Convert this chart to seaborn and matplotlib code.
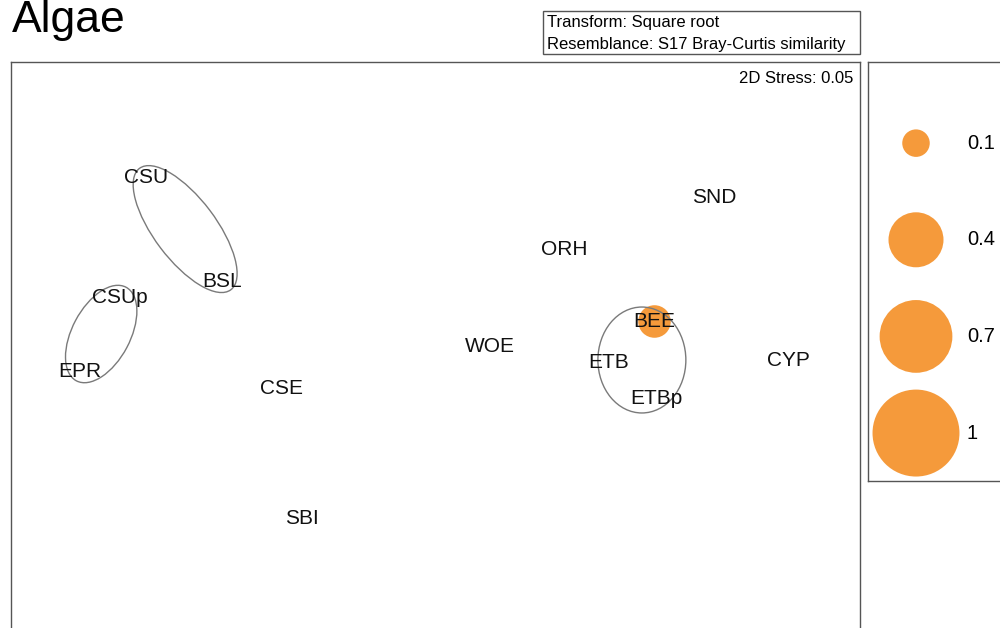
import matplotlib.pyplot as plt
import numpy as np
import pandas as pd
import seaborn as sns
from matplotlib.patches import Ellipse, Rectangle

# nMDS ordination (arbitrary units)
sites = ["CSU", "BSL", "CSUp", "EPR", "CSE", "SBI", "WOE",
         "ORH", "SND", "BEE", "ETB", "ETBp", "CYP"]
mds1 = [-1.445, -1.065, -1.575, -1.775, -0.77, -0.665, 0.275,
        0.645, 1.395, 1.095, 0.87, 1.11, 1.77]
mds2 = [0.865, 0.345, 0.265, -0.11, -0.195, -0.845, 0.02,
        0.505, 0.765, 0.145, -0.06, -0.245, -0.05]
# bubble overlay value (only BEE non-zero)
bubble = [0, 0, 0, 0, 0, 0, 0, 0, 0, 0.14, 0, 0, 0]

# cluster outlines: centre x, centre y, width, height, angle
clu_x = [-1.25, -1.67, 1.035]
clu_y = [0.605, 0.08, -0.05]
clu_w = [0.76, 0.53, 0.44]
clu_h = [0.31, 0.29, 0.53]
clu_a = [-53, 62, 0]

legend_vals = [0.1, 0.4, 0.7, 1]
legend_labels = ["0.1", "0.4", "0.7", "1"]

SIZE_SCALE = 3920  # points^2 for value 1
ORANGE = "#F59A3B"

df = pd.DataFrame({"site": sites, "x": mds1, "y": mds2, "v": bubble})

sns.set_theme(style="white")
plt.rcParams["font.family"] = ["Liberation Sans", "DejaVu Sans"]
plt.rcParams["text.color"] = "black"

fig = plt.figure(figsize=(10, 6.28), dpi=100)
ax = fig.add_axes([0.011, -0.03, 0.849, 0.931])

b = df[df["v"] > 0]
sns.scatterplot(data=b, x="x", y="y", s=b["v"] * SIZE_SCALE, color=ORANGE,
                linewidth=0, legend=False, ax=ax, zorder=2)

for cx, cy, w, h, a in zip(clu_x, clu_y, clu_w, clu_h, clu_a):
    ax.add_patch(Ellipse((cx, cy), w, h, angle=a, fill=False,
                         edgecolor="#7a7a7a", linewidth=1, zorder=3))

for _, r in df.iterrows():
    ax.text(r["x"], r["y"], r["site"], ha="center", va="center",
            fontsize=15, color="#111111", zorder=4)

ax.set_xlim(-2.12, 2.125)
ax.set_ylim(-1.485, 1.44)
ax.set_aspect("equal", adjustable="box")
ax.set_xticks([])
ax.set_yticks([])
ax.set_xlabel("")
ax.set_ylabel("")
for s in ax.spines.values():
    s.set_color("#555555")
    s.set_linewidth(1)
ax.text(0.992, 0.985, "2D Stress: 0.05", transform=ax.transAxes,
        ha="right", va="top", fontsize=12)

# bubble legend panel
lax = fig.add_axes([0.868, 0.234, 0.2, 0.667])
ly = np.linspace(143, 433, len(legend_vals))
ldf = pd.DataFrame({"x": [916] * len(legend_vals), "y": ly, "v": legend_vals})
sns.scatterplot(data=ldf, x="x", y="y", s=ldf["v"] * SIZE_SCALE,
                color=ORANGE, linewidth=0, legend=False, ax=lax)
for yy, lab in zip(ly, legend_labels):
    lax.text(967, yy, lab, ha="left", va="center", fontsize=14.5)
lax.set_xlim(868, 1068)
lax.set_ylim(481, 62)
lax.set_xticks([])
lax.set_yticks([])
lax.set_xlabel("")
lax.set_ylabel("")
for s in lax.spines.values():
    s.set_color("#555555")
    s.set_linewidth(1)

# title and info box
fig.text(0.012, 1 - 32 / 628, "Algae", fontsize=32, va="baseline", ha="left")
fig.add_artist(Rectangle((0.543, 1 - 54 / 628), 0.317, 43 / 628,
                         transform=fig.transFigure, fill=False,
                         edgecolor="#555555", linewidth=1))
fig.text(0.547, 1 - 22 / 628, "Transform: Square root", fontsize=12, va="center")
fig.text(0.547, 1 - 44 / 628, "Resemblance: S17 Bray-Curtis similarity",
         fontsize=12, va="center")

fig.savefig("out.png", dpi=100)
